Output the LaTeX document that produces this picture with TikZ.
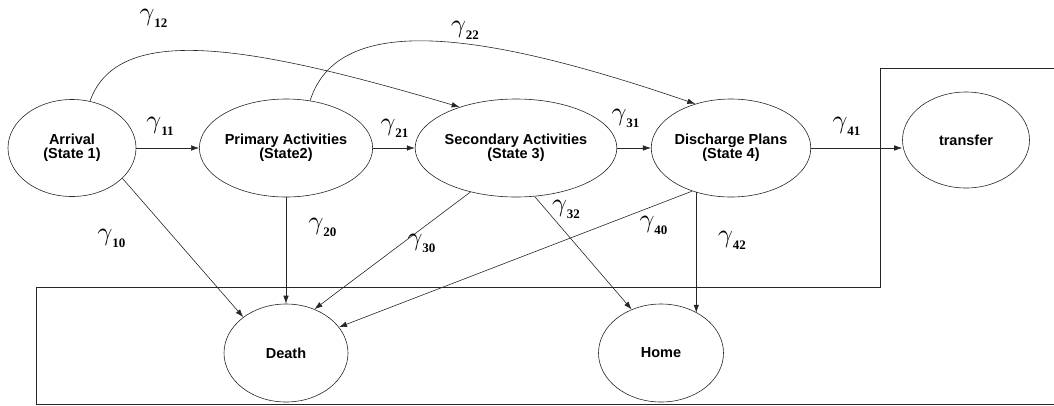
\documentclass[tikz,border=0pt]{standalone}
\usepackage{graphicx}
\usepackage{fontspec}
\setmainfont{Liberation Serif}
\newfontfamily\arialfont{Liberation Sans}
\usetikzlibrary{shapes.geometric,arrows.meta}
\newcommand{\gam}[1]{\scalebox{2.6}{$\gamma$}\kern0pt\raisebox{-7pt}{\fontsize{13}{13}\selectfont\bfseries #1}}
\tikzset{
  state/.style={draw=black!85, ellipse, line width=0.6pt, inner sep=0pt, align=center,
    font=\arialfont\bfseries\fontsize{14.5}{14}\selectfont},
  trans/.style={draw=black!85, line width=0.6pt, -{Latex[length=8pt,width=5.5pt]}},
  glabel/.style={inner sep=0pt},
  frame/.style={draw=black!85, line width=0.9pt}
}
\begin{document}
\begin{tikzpicture}[x=1pt,y=-1pt]
\useasboundingbox (0,0) rectangle (1054,405);
% states
\node[state, minimum width=128pt, minimum height=97pt] (arr) at (72,148) {Arrival\\(State 1)};
\node[state, minimum width=150pt, minimum height=98pt] (pri) at (286,148) {Primary Activities\\(State2)};
\node[state, minimum width=170pt, minimum height=98pt] (sec) at (516,148) {Secondary Activities\\(State 3)};
\node[state, minimum width=141pt, minimum height=98pt] (dis) at (731,148) {Discharge Plans\\(State 4)};
\node[state, minimum width=127pt, minimum height=96pt] (tra) at (966,140) {transfer};
\node[state, minimum width=124pt, minimum height=98pt] (dea) at (286,353) {Death};
\node[state, minimum width=125pt, minimum height=98pt] (hom) at (661,353) {Home};
% frame
\draw[frame] (36,404) -- (36,287) -- (880,287) -- (880,68) -- (1054,68);
\draw[frame] (36,404) -- (1054,404);
% transitions
\draw[trans] (arr.east) -- (pri.west);
\draw[trans] (pri.east) -- (sec.west);
\draw[trans] (sec.east) -- (dis.west);
\draw[trans] (dis.east) -- (tra.west |- dis.east);
\draw[trans] (arr.69) .. controls (118,22) and (250,45) .. (sec.144);
\draw[trans] (pri.63) .. controls (338,12) and (480,30) .. (dis.129);
\draw[trans] (arr.-31) -- (dea.140);
\draw[trans] (pri.south) -- (dea.north);
\draw[trans] (sec.224) -- (dea.57);
\draw[trans] (dis.228) -- (dea.26);
\draw[trans] (sec.291) -- (hom.124);
\draw[trans] (dis.232) -- (dis.232 |- hom.48);
% labels
\node[glabel] (g12) at (153.5,18.5) {\gam{12}};
\node[glabel] (g11) at (160,126) {\gam{11}};
\node[glabel] (g22) at (465,30) {\gam{22}};
\node[glabel] (g21) at (394.5,128) {\gam{21}};
\node[glabel] (g31) at (625.5,118.5) {\gam{31}};
\node[glabel] (g41) at (846.5,126) {\gam{41}};
\node[glabel] (g10) at (111.5,238.5) {\gam{10}};
\node[glabel] (g20) at (322.5,227.5) {\gam{20}};
\node[glabel] (g30) at (421.5,243) {\gam{30}};
\node[glabel] (g32) at (566,209) {\gam{32}};
\node[glabel] (g40) at (653.5,225) {\gam{40}};
\node[glabel] (g42) at (732,240) {\gam{42}};
\end{tikzpicture}
\end{document}
